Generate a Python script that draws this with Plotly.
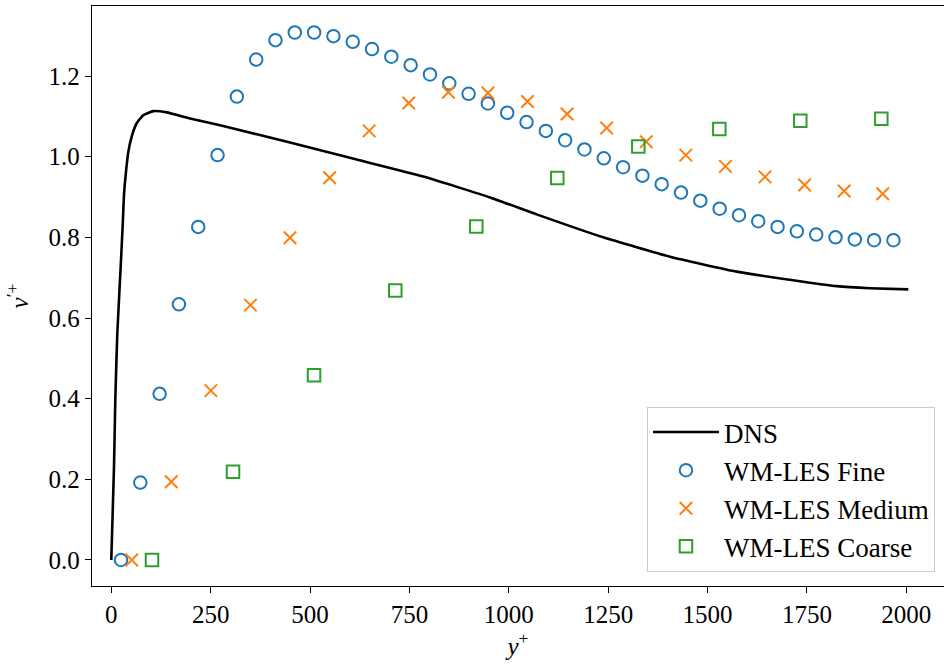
import plotly.graph_objects as go

# DNS reference profile of v'+ against y+
dns_y = [0, 6.8, 10.1, 15.1, 23.6, 28.7, 31.9, 37.0, 42.8, 51.3, 63.8, 80.5,
         105.7, 139.4, 198.0, 281.5, 449.6, 617.4, 785.0, 952.7, 1070.0, 1237.7,
         1405.5, 1573.3, 1741.0, 1824.9, 1908.7, 2005.0]
dns_v = [0.0, 0.231, 0.397, 0.562, 0.727, 0.831, 0.905, 0.963, 1.012, 1.050, 1.083, 1.103,
         1.113, 1.110, 1.095, 1.076, 1.035, 0.993, 0.951, 0.899, 0.857, 0.800,
         0.752, 0.715, 0.690, 0.679, 0.674, 0.671]

# WM-LES, fine grid
fine_y = [24.4, 73.0, 121.6, 170.1, 218.7, 267.3, 315.9, 364.5, 413.0, 461.6,
          510.2, 558.8, 607.4, 655.9, 704.5, 753.1, 801.7, 850.3, 898.8, 947.4,
          996.0, 1044.6, 1093.2, 1141.7, 1190.3, 1238.9, 1287.5, 1336.1, 1384.6, 1433.2,
          1481.8, 1530.4, 1579.0, 1627.5, 1676.1, 1724.7, 1773.3, 1821.9, 1870.4, 1919.0,
          1967.6]
fine_v = [0.000, 0.192, 0.412, 0.634, 0.826, 1.004, 1.149, 1.241, 1.289, 1.308,
          1.308, 1.299, 1.285, 1.267, 1.248, 1.227, 1.204, 1.182, 1.156, 1.132,
          1.109, 1.086, 1.064, 1.041, 1.018, 0.996, 0.974, 0.953, 0.932, 0.911,
          0.891, 0.871, 0.855, 0.840, 0.826, 0.815, 0.807, 0.800, 0.795, 0.793,
          0.793]

# WM-LES, medium grid
medium_y = [51.3, 150.9, 250.4, 350.0, 449.6, 549.2, 648.7, 748.3, 847.9, 947.4,
            1047.0, 1146.6, 1246.1, 1345.7, 1445.3, 1544.9, 1644.4, 1744.0, 1843.6, 1940.6]
medium_v = [0.000, 0.194, 0.420, 0.632, 0.799, 0.948, 1.064, 1.133, 1.160, 1.158,
            1.137, 1.106, 1.071, 1.037, 1.004, 0.976, 0.950, 0.930, 0.915, 0.908]

# WM-LES, coarse grid
coarse_y = [102.4, 306.2, 510.0, 714.4, 918.2, 1122.0, 1325.8, 1529.6, 1733.3, 1937.1]
coarse_v = [0.000, 0.219, 0.458, 0.668, 0.827, 0.947, 1.025, 1.069, 1.089, 1.094]

x_ticks = [0, 250, 500, 750, 1000, 1250, 1500, 1750, 2000]
y_ticks = [0.0, 0.2, 0.4, 0.6, 0.8, 1.0, 1.2]

FONT = "Liberation Serif"
BLUE, ORANGE, GREEN = "#1f77b4", "#ff7f0e", "#2ca02c"

fig = go.Figure()
fig.add_trace(go.Scatter(x=dns_y, y=dns_v, mode="lines", name="DNS",
                         line=dict(color="black", width=2.6, shape="spline", smoothing=0.4),
                         legendgroup="a"))
fig.add_trace(go.Scatter(x=fine_y, y=fine_v, mode="markers", name="WM-LES Fine",
                         marker=dict(symbol="circle-open", size=12.5, color=BLUE,
                                     line=dict(width=2, color=BLUE)),
                         legendgroup="b"))
fig.add_trace(go.Scatter(x=medium_y, y=medium_v, mode="markers", name="WM-LES Medium",
                         marker=dict(symbol="x-thin-open", size=12.5, color=ORANGE,
                                     line=dict(width=2, color=ORANGE)),
                         legendgroup="c"))
fig.add_trace(go.Scatter(x=coarse_y, y=coarse_v, mode="markers", name="WM-LES Coarse",
                         marker=dict(symbol="square-open", size=12.5, color=GREEN,
                                     line=dict(width=2, color=GREEN)),
                         legendgroup="d"))

axis_common = dict(showgrid=False, zeroline=False, showline=True, linecolor="black",
                   linewidth=1.3, ticks="outside", ticklen=6, tickwidth=1.2,
                   tickcolor="black", tickfont=dict(family=FONT, size=25, color="black"))

fig.update_layout(
    width=944, height=664,
    margin=dict(l=92, r=0, t=6, b=78),
    plot_bgcolor="white", paper_bgcolor="white",
    xaxis=dict(range=[-48.55, 2094.8], tickvals=x_ticks,
               ticktext=[str(t) for t in x_ticks], mirror=True,
               title=dict(text="<i>y</i><sup>+</sup>", font=dict(family=FONT, size=25, color="black"),
                          standoff=8),
               **axis_common),
    yaxis=dict(range=[-0.0645, 1.3737], tickvals=y_ticks,
               ticktext=[f"{t:.1f}" for t in y_ticks],
               title=dict(text="<i>v</i><sup>′+</sup>", font=dict(family=FONT, size=25, color="black"),
                          standoff=12),
               **axis_common),
    legend=dict(x=0.9894, y=0.0241, xanchor="right", yanchor="bottom",
                bgcolor="rgba(255,255,255,0.8)", bordercolor="#cccccc", borderwidth=1,
                font=dict(family=FONT, size=27, color="black"),
                itemwidth=66, tracegroupgap=0, traceorder="grouped"),
    showlegend=True,
)

fig.write_html("out.html")
